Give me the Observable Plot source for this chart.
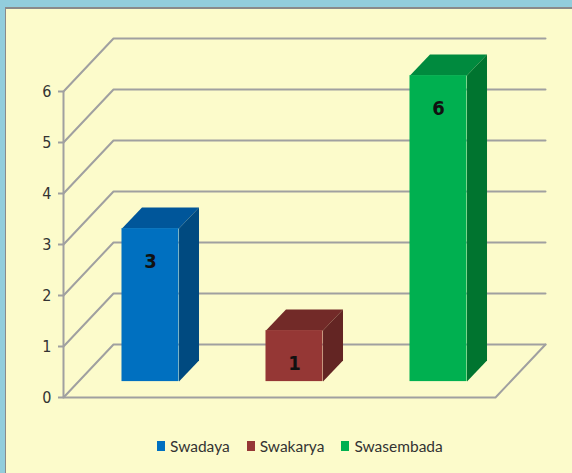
<!DOCTYPE html>
<html>
<head>
<meta charset="utf-8">
<script src="https://cdn.jsdelivr.net/npm/d3@7"></script>
<script src="https://cdn.jsdelivr.net/npm/@observablehq/plot@0.6"></script>
<style>
  html, body { margin: 0; padding: 0; }
  body { width: 572px; height: 473px; position: relative; overflow: hidden; background: #92CDDC; }
  #panel { position: absolute; left: 5px; top: 7px; right: 0; bottom: 0;
           background: #FCFBCB; border-left: 1px solid #8a8a8a; border-top: 2px solid #8a8a8a; }
  #chart { position: absolute; left: 0; top: 0; }
  #legend { position: absolute; left: 157px; top: 436px; display: flex; gap: 17px;
            font-family: Lato, "DejaVu Sans Condensed", sans-serif;
            font-size: 15.5px; color: #333; line-height: 20px; }
  #legend .item { display: flex; align-items: center; }
  #legend .sw { width: 8px; height: 10px; margin-right: 5px; }
</style>
</head>
<body>
<div id="panel"></div>
<div id="chart"></div>
<div id="legend"></div>
<script>
// ---- data ----
const categories = ["Swadaya", "Swakarya", "Swasembada"];
const values = [3, 1, 6];
const frontColors = ["#0070C0", "#953735", "#00B050"];
const topColors = ["#00569A", "#722A28", "#008A3E"];
const sideColors = ["#004A80", "#632523", "#00742F"];
const yTicks = [0, 1, 2, 3, 4, 5, 6];

// ---- 3D projection in data units ----
const dX = 50 / 144;   // full depth shift along x (category units)
const dY = 53 / 51;    // full depth shift along y (value units)
const hw = 0.198;      // half bar width
const f = 0.3, b = 0.7; // bar front / back depth

const faces = [];
const fronts = [];
const labels = [];
categories.forEach((cat, i) => {
  const c = i + 0.5, v = values[i];
  fronts.push({x1: c - hw + f * dX, x2: c + hw + f * dX, y1: f * dY, y2: v + f * dY, color: frontColors[i]});
  const top = [[c - hw + f * dX, v + f * dY], [c + hw + f * dX, v + f * dY], [c + hw + b * dX, v + b * dY], [c - hw + b * dX, v + b * dY]];
  top.forEach(([x, y]) => faces.push({id: cat + "-top", x, y, color: topColors[i]}));
  const side = [[c + hw + f * dX, f * dY], [c + hw + f * dX, v + f * dY], [c + hw + b * dX, v + b * dY], [c + hw + b * dX, b * dY]];
  side.forEach(([x, y]) => faces.push({id: cat + "-side", x, y, color: sideColors[i]}));
  labels.push({x: c + f * dX, y: v + f * dY, text: String(v)});
});

const grid = [];
yTicks.forEach(t => {
  grid.push({id: "g" + t, x: 0, y: t});
  grid.push({id: "g" + t, x: dX, y: t + dY});
  grid.push({id: "g" + t, x: 3 + dX, y: t + dY});
});
const floor = [
  {id: "floor", x: 0, y: 0},
  {id: "floor", x: 3, y: 0},
  {id: "floor", x: 3 + dX, y: dY}
];

const W = 572, H = 420;
const plot = Plot.plot({
  width: W,
  height: H,
  marginLeft: 63,
  marginRight: W - 495,
  marginTop: 91,
  marginBottom: H - 397,
  style: {background: "transparent", overflow: "visible", fontFamily: "'DejaVu Sans Condensed', sans-serif"},
  x: {domain: [0, 3], axis: null},
  y: {domain: [0, 6], axis: null},
  color: {type: "identity"},
  marks: [
    Plot.line(grid, {x: "x", y: "y", z: "id", stroke: "#a0a0a0", strokeWidth: 2}),
    Plot.line(floor, {x: "x", y: "y", z: "id", stroke: "#a0a0a0", strokeWidth: 2}),
    Plot.ruleX([0], {y1: 0, y2: 6, stroke: "#a0a0a0", strokeWidth: 2}),
    Plot.axisY({ticks: yTicks, tickSize: 5, tickPadding: 7, fontSize: 16, stroke: "#a0a0a0", fill: "#333", strokeWidth: 2, tickFormat: d => String(d)}),
    Plot.line(faces, {x: "x", y: "y", z: "id", fill: "color", stroke: "none"}),
    Plot.rect(fronts, {x1: "x1", x2: "x2", y1: "y1", y2: "y2", fill: "color"}),
    Plot.text(labels, {x: "x", y: "y", text: "text", dy: 33, fontSize: 20, fontWeight: "bold", fill: "#111"})
  ]
});
document.getElementById("chart").appendChild(plot);

const legend = document.getElementById("legend");
categories.forEach((cat, i) => {
  const item = document.createElement("div");
  item.className = "item";
  const sw = document.createElement("span");
  sw.className = "sw";
  sw.style.background = frontColors[i];
  const tx = document.createElement("span");
  tx.textContent = cat;
  item.appendChild(sw);
  item.appendChild(tx);
  legend.appendChild(item);
});
</script>
</body>
</html>
